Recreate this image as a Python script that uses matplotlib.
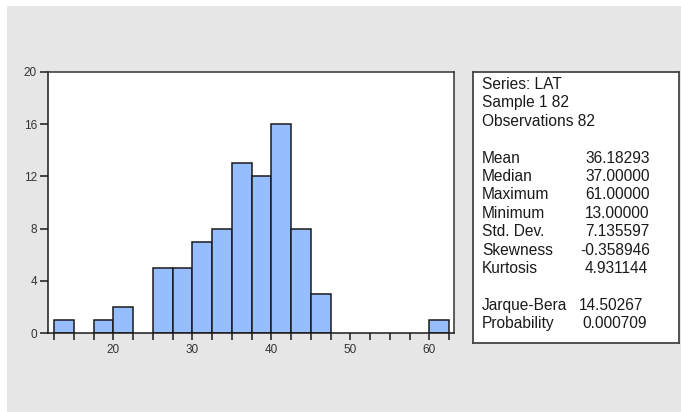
import numpy as np
import matplotlib
matplotlib.use("Agg")
import matplotlib.pyplot as plt
from matplotlib.patches import Rectangle

# histogram of LAT, bins of width 2.5 starting at 12.5
bin_start = 12.5
bin_width = 2.5
counts = [1, 0, 1, 2, 0, 5, 5, 7, 8, 13, 12, 16, 8, 3, 0, 0, 0, 0, 0, 1]

x_labels = [20, 30, 40, 50, 60]
y_ticks = [0, 4, 8, 12, 16, 20]

header_lines = ["Series: LAT", "Sample 1 82", "Observations 82"]
moment_names = ["Mean", "Median", "Maximum", "Minimum", "Std. Dev.", "Skewness", "Kurtosis"]
moment_values = ["36.18293", "37.00000", "61.00000", "13.00000", "7.135597", "-0.358946", "4.931144"]
test_names = ["Jarque-Bera", "Probability"]
test_values = ["14.50267", "0.000709"]

W, H = 681, 412
plt.rcParams['font.family'] = ['Liberation Sans', 'DejaVu Sans']

fig = plt.figure(figsize=(W / 100, H / 100), dpi=100, facecolor='white')
fig.patches.append(Rectangle((7 / W, 0), 1 - 7 / W, 1 - 6 / H, transform=fig.transFigure,
                             facecolor='#e6e6e6', edgecolor='none', zorder=-5))

def px_axes(x0, y0, x1, y1):
    # pixel box (top-left origin) -> figure axes
    return fig.add_axes([x0 / W, 1 - y1 / H, (x1 - x0) / W, (y1 - y0) / H])

# --- histogram ---
ax = px_axes(48, 72, 454, 333)
ax.set_facecolor('white')
edges = bin_start + bin_width * np.arange(len(counts) + 1)
for left, c in zip(edges[:-1], counts):
    if c > 0:
        ax.bar(left, c, width=bin_width, align='edge', color='#96BEFF',
               edgecolor='#1a1a1a', linewidth=1.1, zorder=2)

ax.set_xlim(11.74, 63.13)
ax.set_ylim(0, 20)
ax.set_xticks(edges, minor=True)
ax.set_xticks(x_labels)
ax.set_xticklabels([str(v) for v in x_labels])
ax.set_yticks(y_ticks)
ax.set_yticklabels([str(v) for v in y_ticks])
ax.tick_params(which='both', axis='x', direction='out', length=5, width=1.1, color='#1a1a1a',
               labelsize=8.5, labelcolor='#333333', pad=3)
ax.tick_params(axis='y', direction='out', length=6, width=1.1, color='#1a1a1a',
               labelsize=8.5, labelcolor='#333333', pad=2)
for s in ax.spines.values():
    s.set_linewidth(1.1)
    s.set_color('#333333')
ax.spines['left'].set_color('#1a1a1a')
ax.spines['bottom'].set_color('#1a1a1a')

# --- statistics box ---
bx0, by0, bx1, by1 = 473, 72, 679, 343
bax = px_axes(bx0, by0, bx1, by1)
bax.set_xlim(0, bx1 - bx0)
bax.set_ylim(by1 - by0, 0)
bax.set_xticks([])
bax.set_yticks([])
for s in bax.spines.values():
    s.set_linewidth(1.3)
    s.set_color('#444444')

fs = 11.2
tc = '#1a1a1a'
left_x = 9
base0 = 17
step = 18.4
row = 0
for line in header_lines:
    bax.text(left_x, base0 + row * step, line, fontsize=fs, color=tc, va='baseline', ha='left')
    row += 1
row += 1
for name, val in zip(moment_names, moment_values):
    y = base0 + row * step
    bax.text(left_x, y, name, fontsize=fs, color=tc, va='baseline', ha='left')
    vx = 112 - (5 if val.startswith('-') else 0)
    bax.text(vx, y, val, fontsize=fs, color=tc, va='baseline', ha='left')
    row += 1
row += 1
for name, val, vx in zip(test_names, test_values, [106, 109]):
    y = base0 + row * step
    bax.text(left_x, y, name, fontsize=fs, color=tc, va='baseline', ha='left')
    bax.text(vx, y, val, fontsize=fs, color=tc, va='baseline', ha='left')
    row += 1

fig.savefig('out.png', dpi=100, facecolor=fig.get_facecolor())
